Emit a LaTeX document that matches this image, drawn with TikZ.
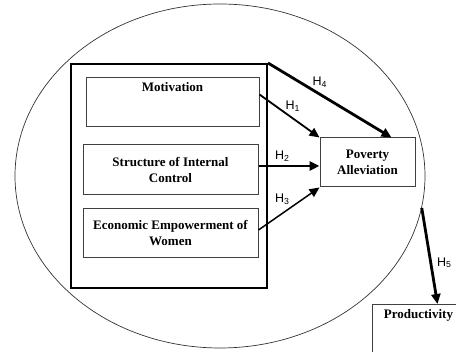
\documentclass[tikz,border=0pt]{standalone}
\usepackage{fontspec}
\setmainfont{Liberation Serif}
\newfontfamily\hfont{Liberation Sans}
\usetikzlibrary{arrows.meta,shapes.geometric,calc}
\tikzset{
  txt/.style={font=\bfseries\fontsize{13}{16}\selectfont,align=center},
  box/.style={draw=black!75,line width=1pt,inner sep=0pt,txt},
  hyp/.style={-{Triangle[length=10pt,width=9pt]}},
  hlab/.style={font=\hfont\fontsize{12.5}{13}\selectfont,inner sep=1pt},
}
\begin{document}
\begin{tikzpicture}[x=1pt,y=-1pt]
  \useasboundingbox (0,0) rectangle (456,352);
  \clip (0,0) rectangle (456,352);
  % outer ring and frame
  \node[draw=black!80,ellipse,line width=0.7pt,inner sep=0pt,minimum width=410pt,minimum height=344pt](bubble) at (220,176){};
  \node[draw,line width=2pt,minimum width=196pt,minimum height=224pt](frame) at (169,176){};
  % variables
  \node[box,minimum width=173pt,minimum height=49pt,label={[txt,anchor=north,inner sep=5pt]north:Motivation}](mot) at (172.5,102.5){};
  \node[box,minimum width=175pt,minimum height=50pt](strc) at (170.5,170){Structure of Internal\\Control};
  \node[box,minimum width=175pt,minimum height=49pt](econ) at (170.5,233.5){Economic Empowerment of\\Women};
  \node[box,minimum width=95pt,minimum height=49pt](pov) at (367.5,162.5){Poverty\\Alleviation};
  \node[box,anchor=north west,minimum width=92pt,minimum height=60pt,label={[txt,anchor=north,inner sep=5pt]north:Productivity}](prod) at (372,304){};
  % hypotheses
  \coordinate (h1s) at ($(mot.east)+(0,-8)$);
  \coordinate (h2s) at ($(strc.east)+(0,-4)$);
  \coordinate (h3s) at ($(econ.east)+(0,-3.5)$);
  \draw[hyp,line width=1.8pt] (h1s) -- (pov.north west) node[hlab,pos=0.42,above right,inner sep=0pt]{H\textsubscript{1}};
  \draw[hyp,line width=2.8pt] (h2s) -- (h2s -| pov.west) node[hlab,pos=0.39,above=2pt]{H\textsubscript{2}};
  \draw[hyp,line width=1.5pt] (h3s) -- (pov.south west) node[hlab,pos=0.39,above=7pt]{H\textsubscript{3}};
  \draw[hyp,line width=2.8pt] (frame.north east) -- ($(pov.north west)!0.75!(pov.north east)$) node[hlab,pos=0.42,above=4pt]{H\textsubscript{4}};
  \draw[hyp,line width=2.8pt] (bubble.-9) -- ($(prod.north)+(19,0)$) node[hlab,pos=0.57,right=4pt]{H\textsubscript{5}};
\end{tikzpicture}
\end{document}
